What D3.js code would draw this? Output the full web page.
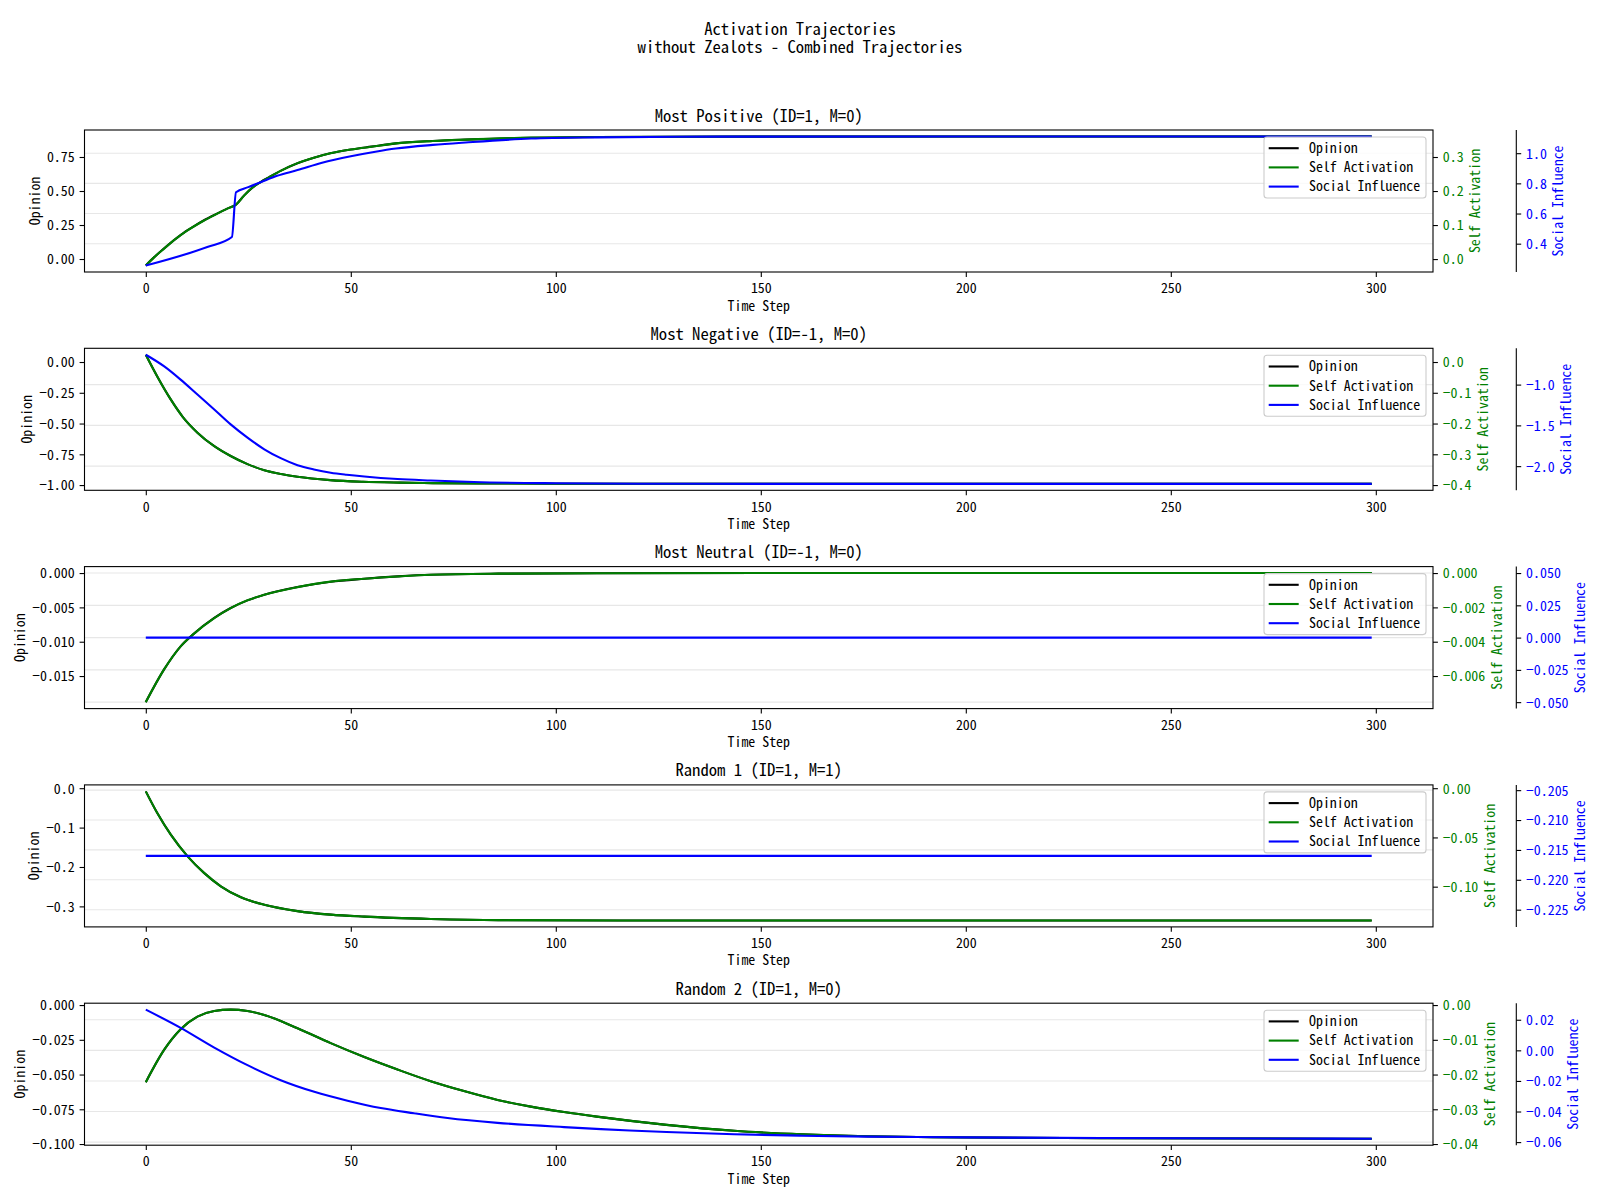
<!DOCTYPE html>
<html><head><meta charset="utf-8">
<script src="https://cdn.jsdelivr.net/npm/d3@7"></script>
<style>
body{margin:0;background:#fff;}
svg text{font-family:"Noto Sans Mono CJK SC","Noto Sans CJK SC","DejaVu Sans Mono",monospace;}
</style></head>
<body><svg id="c" width="1600" height="1200"></svg>
<script>
// ---------------- DATA ----------------
const suptitleLines = ["Activation Trajectories", "without Zealots - Combined Trajectories"];
const panelTitles = ["Most Positive (ID=1, M=0)", "Most Negative (ID=-1, M=0)", "Most Neutral (ID=-1, M=0)", "Random 1 (ID=1, M=1)", "Random 2 (ID=1, M=0)"];
const legendLabels = ["Opinion", "Self Activation", "Social Influence"];
const xTicks = [0, 50, 100, 150, 200, 250, 300];
const xLabel = "Time Step";
const yLabels = ["Opinion", "Self Activation", "Social Influence"];
const lastStep = 299;

// Panel 1
const p1Time    = [0, 2, 4, 6, 8, 10, 12, 14, 17, 20, 22, 24, 26, 28, 30, 33, 37, 41, 45, 50, 55, 61, 70, 78, 94, 110, 150, 200, 299];
const p1Opinion = [-0.048, 0.012, 0.066, 0.117, 0.164, 0.208, 0.246, 0.281, 0.328, 0.372, 0.400, 0.468, 0.525, 0.566, 0.600, 0.650, 0.704, 0.745, 0.777, 0.805, 0.826, 0.850, 0.868, 0.878, 0.892, 0.897, 0.900, 0.901, 0.901];
const p1Self    = [-0.019, 0.005, 0.026, 0.047, 0.066, 0.083, 0.098, 0.112, 0.131, 0.149, 0.160, 0.187, 0.210, 0.226, 0.240, 0.260, 0.282, 0.298, 0.311, 0.322, 0.330, 0.340, 0.347, 0.351, 0.357, 0.359, 0.360, 0.3604, 0.3604];
const p1SocialTime = [0, 15, 21, 22, 25, 28, 32, 37, 43, 50, 56, 61, 70, 78, 94, 110, 130, 150, 200, 299];
const p1Social     = [0.255, 0.378, 0.444, 0.741, 0.775, 0.807, 0.850, 0.888, 0.937, 0.980, 1.010, 1.031, 1.055, 1.071, 1.097, 1.105, 1.109, 1.110, 1.111, 1.111];

// Panel 2
const p2Time    = [0, 3, 6, 9, 12.6, 16.7, 20.7, 24.8, 28.9, 33, 37, 45, 53, 62, 70, 85, 100, 150, 299];
const p2Opinion = [0.059, -0.130, -0.300, -0.445, -0.574, -0.684, -0.764, -0.830, -0.879, -0.910, -0.933, -0.960, -0.973, -0.980, -0.984, -0.987, -0.989, -0.990, -0.990];
const p2Self    = [0.0236, -0.052, -0.120, -0.178, -0.2296, -0.2736, -0.3056, -0.332, -0.3516, -0.364, -0.3732, -0.384, -0.3892, -0.392, -0.3936, -0.3948, -0.3956, -0.396, -0.396];
const p2SocialTime = [0, 4.5, 8.5, 12.6, 16.7, 20.7, 24.8, 28.9, 32.9, 37, 41, 45.1, 49, 53.3, 61.4, 69.5, 80, 100, 120, 150, 299];
const p2Social     = [-0.634, -0.777, -0.939, -1.122, -1.305, -1.488, -1.650, -1.793, -1.902, -1.988, -2.040, -2.080, -2.105, -2.127, -2.158, -2.176, -2.195, -2.210, -2.215, -2.217, -2.217];

// Panel 3
const p3Time    = [0, 4.5, 8.5, 11.4, 16.7, 20.7, 24.8, 28.9, 37, 45.1, 53.3, 61.4, 69.5, 86, 110, 150, 299];
const p3Opinion = [-0.0188, -0.0140, -0.01067, -0.00900, -0.00654, -0.00509, -0.00398, -0.00315, -0.00204, -0.00126, -0.00083, -0.00049, -0.00025, -0.00009, -0.00002, 0, 0];
const p3Self    = [-0.00752, -0.0056, -0.00427, -0.0036, -0.00262, -0.00204, -0.00159, -0.00126, -0.00082, -0.0005, -0.00033, -0.0002, -0.0001, -0.000036, -0.000008, 0, 0];
const p3SocialTime = [0, 299];
const p3Social     = [0, 0];

// Panel 4
const p4Time    = [0, 2.8, 6.1, 10.2, 14.2, 18.3, 23.2, 28.9, 37, 45.1, 53.3, 69.5, 86, 120, 299];
const p4Opinion = [-0.008, -0.063, -0.118, -0.173, -0.215, -0.249, -0.277, -0.296, -0.312, -0.321, -0.326, -0.332, -0.335, -0.3357, -0.3357];
const p4Self    = [-0.0032, -0.0252, -0.0472, -0.0692, -0.086, -0.0996, -0.1108, -0.1184, -0.1248, -0.1284, -0.1304, -0.1328, -0.134, -0.1343, -0.1343];
const p4SocialTime = [0, 299];
const p4Social     = [-0.216, -0.216];

// Panel 5
const p5Time    = [0, 4.5, 8.5, 12.6, 16.7, 20.7, 24.8, 28.9, 37, 45.1, 53.3, 61.4, 69.5, 77.6, 85.8, 93.9, 102, 110, 127, 143.5, 160, 176, 192, 233, 299];
const p5Opinion = [-0.0555, -0.0321, -0.0174, -0.0083, -0.0043, -0.0033, -0.0043, -0.0071, -0.0167, -0.0274, -0.0374, -0.0464, -0.0548, -0.0619, -0.0683, -0.0731, -0.0770, -0.0803, -0.0862, -0.0905, -0.0930, -0.0944, -0.0951, -0.0958, -0.0962];
const p5Self    = [-0.0222, -0.01284, -0.00696, -0.00332, -0.00172, -0.00132, -0.00172, -0.00284, -0.00668, -0.01096, -0.01496, -0.01856, -0.02192, -0.02476, -0.02732, -0.02924, -0.0308, -0.03212, -0.03448, -0.0362, -0.0372, -0.03776, -0.03804, -0.03832, -0.03848];
const p5SocialTime = [0, 8.5, 16.7, 24.8, 32.9, 41.1, 49.2, 57.3, 65.4, 73.6, 85.8, 102, 111, 118, 127, 143.5, 160, 176, 200, 233, 299];
const p5Social     = [0.0266, 0.0147, 0.0018, -0.0097, -0.0195, -0.0271, -0.0329, -0.0377, -0.0411, -0.0442, -0.0474, -0.0502, -0.0515, -0.0524, -0.0534, -0.0549, -0.0558, -0.0564, -0.0569, -0.0573, -0.0578];

// Tick values per axis (left / self / social)
const p1Ticks = {left:[0,0.25,0.5,0.75], self:[0,0.1,0.2,0.3], social:[0.4,0.6,0.8,1.0], fl:".2f", fs:".1f", fb:".1f"};
const p2Ticks = {left:[-1,-0.75,-0.5,-0.25,0], self:[-0.4,-0.3,-0.2,-0.1,0], social:[-2,-1.5,-1], fl:".2f", fs:".1f", fb:".1f"};
const p3Ticks = {left:[-0.015,-0.01,-0.005,0], self:[-0.006,-0.004,-0.002,0], social:[-0.05,-0.025,0,0.025,0.05], fl:".3f", fs:".3f", fb:".3f"};
const p4Ticks = {left:[-0.3,-0.2,-0.1,0], self:[-0.1,-0.05,0], social:[-0.225,-0.22,-0.215,-0.21,-0.205], fl:".1f", fs:".2f", fb:".3f"};
const p5Ticks = {left:[-0.1,-0.075,-0.05,-0.025,0], self:[-0.04,-0.03,-0.02,-0.01,0], social:[-0.06,-0.04,-0.02,0,0.02], fl:".3f", fs:".2f", fb:".2f"};

const panels = [
  {t:p1Time, op:p1Opinion, sa:p1Self, st:p1SocialTime, si:p1Social, ticks:p1Ticks},
  {t:p2Time, op:p2Opinion, sa:p2Self, st:p2SocialTime, si:p2Social, ticks:p2Ticks},
  {t:p3Time, op:p3Opinion, sa:p3Self, st:p3SocialTime, si:p3Social, ticks:p3Ticks},
  {t:p4Time, op:p4Opinion, sa:p4Self, st:p4SocialTime, si:p4Social, ticks:p4Ticks},
  {t:p5Time, op:p5Opinion, sa:p5Self, st:p5SocialTime, si:p5Social, ticks:p5Ticks},
];

// ---------------- LAYOUT ----------------
const svg = d3.select("#c");
const FS = 13.9, TFS = 16.67;
const axLeft = 84.5, axRight = 1433, axH = 142, firstTop = 130, step = 218.3;
const socialOffset = 83.3;
const GREEN = "#008000", BLUE = "#0000ff";

function autoDomain(vals){
  let lo = d3.min(vals), hi = d3.max(vals);
  if (hi - lo < 1e-12){ const e = lo === 0 ? 0.05 : Math.abs(lo)*0.05; lo -= e; hi += e; }
  const m = (hi - lo)*0.05;
  return [lo - m, hi + m];
}

const x = d3.scaleLinear().domain(autoDomain([0, lastStep])).range([axLeft, axRight]);

svg.append("rect").attr("width",1600).attr("height",1200).attr("fill","#fff");

suptitleLines.forEach((l,i)=>svg.append("text").attr("x",800).attr("y",35+i*17.5)
  .attr("text-anchor","middle").attr("font-size",TFS).attr("fill","#000").text(l));

panels.forEach((p,i)=>{
  const top = firstTop + i*step, bottom = top + axH;
  const g = svg.append("g");
  const yL = d3.scaleLinear().domain(autoDomain(p.op)).range([bottom, top]);
  const yS = d3.scaleLinear().domain(autoDomain(p.sa)).range([bottom, top]);
  const yB = d3.scaleLinear().domain(autoDomain(p.si)).range([bottom, top]);

  // grid from social axis ticks
  g.append("g").selectAll("line").data(p.ticks.social).join("line")
    .attr("x1",axLeft).attr("x2",axRight)
    .attr("y1",d=>yB(d)).attr("y2",d=>yB(d))
    .attr("stroke","#b0b0b0").attr("stroke-opacity",0.3).attr("stroke-width",1.1);

  const mk = (ys, tt)=> d3.line().x((d,k)=>x(tt[k])).y(d=>ys(d)).curve(d3.curveMonotoneX);
  g.append("path").attr("d", mk(yL, p.t)(p.op)).attr("fill","none").attr("stroke","#000").attr("stroke-width",2.1);
  g.append("path").attr("d", mk(yS, p.t)(p.sa)).attr("fill","none").attr("stroke",GREEN).attr("stroke-width",2.1);
  g.append("path").attr("d", mk(yB, p.st)(p.si)).attr("fill","none").attr("stroke",BLUE).attr("stroke-width",2.1);

  // frame
  g.append("rect").attr("x",axLeft).attr("y",top).attr("width",axRight-axLeft).attr("height",axH)
    .attr("fill","none").attr("stroke","#000").attr("stroke-width",1.1);

  // x axis
  const xa = g.append("g").attr("transform",`translate(0,${bottom})`)
    .call(d3.axisBottom(x).tickValues(xTicks).tickSize(4.9).tickPadding(6.5).tickFormat(d3.format("d")));
  xa.select(".domain").remove();
  xa.selectAll("line").attr("stroke","#000").attr("stroke-width",1.1);
  xa.selectAll("text").attr("font-size",FS).attr("font-family",null).attr("fill","#000");
  g.append("text").attr("x",(axLeft+axRight)/2).attr("y",bottom+38.5).attr("text-anchor","middle")
    .attr("font-size",FS).attr("fill","#000").text(xLabel);

  // left axis
  const la = g.append("g").attr("transform",`translate(${axLeft},0)`)
    .call(d3.axisLeft(yL).tickValues(p.ticks.left).tickSize(4.9).tickPadding(4.9).tickFormat(d3.format(p.ticks.fl)));
  la.select(".domain").remove();
  la.selectAll("line").attr("stroke","#000").attr("stroke-width",1.1);
  la.selectAll("text").attr("font-size",FS).attr("font-family",null).attr("fill","#000").attr("dy","0.35em");
  let minLeft = d3.min(la.selectAll("text").nodes(), n=>n.getBBox().x) + axLeft;
  g.append("text").attr("transform",`translate(${minLeft-7},${(top+bottom)/2}) rotate(-90)`)
    .attr("text-anchor","middle").attr("font-size",FS).attr("fill","#000").text(yLabels[0]);

  // self axis (right)
  const sa = g.append("g").attr("transform",`translate(${axRight},0)`)
    .call(d3.axisRight(yS).tickValues(p.ticks.self).tickSize(4.9).tickPadding(4.9).tickFormat(d3.format(p.ticks.fs)));
  sa.select(".domain").remove();
  sa.selectAll("line").attr("stroke","#000").attr("stroke-width",1.1);
  sa.selectAll("text").attr("font-size",FS).attr("font-family",null).attr("fill",GREEN).attr("dy","0.35em");
  let maxS = d3.max(sa.selectAll("text").nodes(), n=>{const b=n.getBBox(); return b.x+b.width;}) + axRight;
  g.append("text").attr("transform",`translate(${maxS+16.5},${(top+bottom)/2}) rotate(-90)`)
    .attr("text-anchor","middle").attr("font-size",FS).attr("fill",GREEN).text(yLabels[1]);

  // social axis (outward)
  const bx = axRight + socialOffset;
  const ba = g.append("g").attr("transform",`translate(${bx},0)`)
    .call(d3.axisRight(yB).tickValues(p.ticks.social).tickSize(4.9).tickPadding(4.9).tickSizeOuter(0).tickFormat(d3.format(p.ticks.fb)));
  ba.select(".domain").remove();
  ba.selectAll("line").attr("stroke","#000").attr("stroke-width",1.1);
  ba.selectAll("text").attr("font-size",FS).attr("font-family",null).attr("fill",BLUE).attr("dy","0.35em");
  g.append("line").attr("x1",bx).attr("x2",bx).attr("y1",top).attr("y2",bottom).attr("stroke","#000").attr("stroke-width",1.1);
  let maxB = d3.max(ba.selectAll("text").nodes(), n=>{const b=n.getBBox(); return b.x+b.width;}) + bx;
  g.append("text").attr("transform",`translate(${maxB+16.5},${(top+bottom)/2}) rotate(-90)`)
    .attr("text-anchor","middle").attr("font-size",FS).attr("fill",BLUE).text(yLabels[2]);

  // title
  g.append("text").attr("x",(axLeft+axRight)/2).attr("y",top-8.5).attr("text-anchor","middle")
    .attr("font-size",TFS).attr("fill","#000").text(panelTitles[i]);

  // legend
  const lw = 162, lh = 61, lx = axRight - 7 - lw, ly = top + 7;
  const lg = g.append("g");
  lg.append("rect").attr("x",lx).attr("y",ly).attr("width",lw).attr("height",lh).attr("rx",3)
    .attr("fill","#fff").attr("fill-opacity",0.8).attr("stroke","#cccccc").attr("stroke-width",1.1);
  const cols = ["#000", GREEN, BLUE];
  legendLabels.forEach((lab,k)=>{
    const yy = ly + 11.2 + k*19.2;
    lg.append("line").attr("x1",lx+4.7).attr("x2",lx+34.7).attr("y1",yy).attr("y2",yy).attr("stroke",cols[k]).attr("stroke-width",2.1);
    lg.append("text").attr("x",lx+45).attr("y",yy).attr("dy","0.35em").attr("font-size",FS).attr("fill","#000").text(lab);
  });
});
</script></body></html>
